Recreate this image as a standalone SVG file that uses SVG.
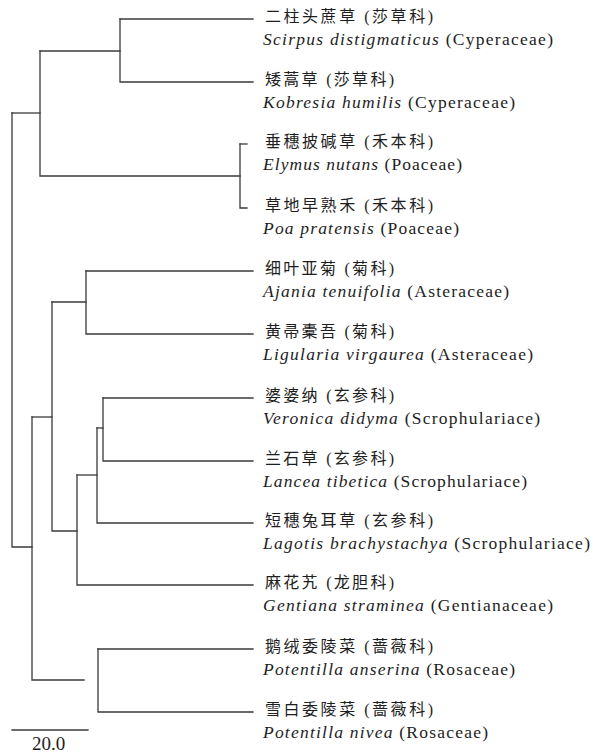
<svg xmlns="http://www.w3.org/2000/svg" width="593" height="753" viewBox="0 0 593 753">
<style>
.bg{fill:#ffffff}
.cn{font-family:"Liberation Serif","Noto Sans CJK SC",serif;font-size:16px;fill:#1e1e1e}
.la{font-family:"Liberation Serif",serif;font-size:17.5px;fill:#1e1e1e}
.it{font-style:italic}
.edge{fill:none;stroke:#3a3a3a;stroke-width:1.3;stroke-linecap:square;stroke-linejoin:miter}
.sc{font-family:"Liberation Serif",serif;font-size:19px;fill:#1e1e1e}
</style>
<rect class="bg" x="0" y="0" width="593" height="753"/>
<g id="connectors">
<path class="edge" d="M12,113 H40"/>
<path class="edge" d="M12,113 V547 H32"/>
<path class="edge" d="M40,51 V176 H240"/>
<path class="edge" d="M40,51 H120"/>
<path class="edge" d="M120,19 V82 H253"/>
<path class="edge" d="M120,19 H253"/>
<path class="edge" d="M240,144 V208 H247"/>
<path class="edge" d="M240,144 H247"/>
<path class="edge" d="M32,417 V680 H84"/>
<path class="edge" d="M32,417 H52"/>
<path class="edge" d="M52,302 V531 H77"/>
<path class="edge" d="M52,302 H86"/>
<path class="edge" d="M86,271 V334 H253"/>
<path class="edge" d="M86,271 H253"/>
<path class="edge" d="M77,475 V585 H253"/>
<path class="edge" d="M77,475 H97"/>
<path class="edge" d="M97,428 V523 H253"/>
<path class="edge" d="M97,428 H103"/>
<path class="edge" d="M103,398 V461 H253"/>
<path class="edge" d="M103,398 H253"/>
<path class="edge" d="M98,649 V712 H253"/>
<path class="edge" d="M98,649 H253"/>
</g>
<g id="scale">
<path class="edge" d="M12,730 H88"/>
<text class="sc" x="32" y="750">20.0</text>
</g>
<g id="n1">
<text class="cn" x="265" y="22" textLength="168" lengthAdjust="spacing">二柱头蔗草 (莎草科)</text>
<text class="la" x="263" y="45" textLength="290" lengthAdjust="spacing"><tspan class="it">Scirpus distigmaticus</tspan> (Cyperaceae)</text>
</g>
<g id="n2">
<text class="cn" x="265" y="85" textLength="129" lengthAdjust="spacing">矮蒿草 (莎草科)</text>
<text class="la" x="263" y="108" textLength="252" lengthAdjust="spacing"><tspan class="it">Kobresia humilis</tspan> (Cyperaceae)</text>
</g>
<g id="n3">
<text class="cn" x="265" y="147" textLength="168" lengthAdjust="spacing">垂穗披碱草 (禾本科)</text>
<text class="la" x="263" y="170" textLength="199" lengthAdjust="spacing"><tspan class="it">Elymus nutans</tspan> (Poaceae)</text>
</g>
<g id="n4">
<text class="cn" x="265" y="211" textLength="168" lengthAdjust="spacing">草地早熟禾 (禾本科)</text>
<text class="la" x="263" y="234" textLength="196" lengthAdjust="spacing"><tspan class="it">Poa pratensis</tspan> (Poaceae)</text>
</g>
<g id="n5">
<text class="cn" x="265" y="274" textLength="129" lengthAdjust="spacing">细叶亚菊 (菊科)</text>
<text class="la" x="263" y="297" textLength="246" lengthAdjust="spacing"><tspan class="it">Ajania tenuifolia</tspan> (Asteraceae)</text>
</g>
<g id="n6">
<text class="cn" x="265" y="337" textLength="129" lengthAdjust="spacing">黄帚橐吾 (菊科)</text>
<text class="la" x="263" y="360" textLength="270" lengthAdjust="spacing"><tspan class="it">Ligularia virgaurea</tspan> (Asteraceae)</text>
</g>
<g id="n7">
<text class="cn" x="265" y="401" textLength="129" lengthAdjust="spacing">婆婆纳 (玄参科)</text>
<text class="la" x="263" y="424" textLength="277" lengthAdjust="spacing"><tspan class="it">Veronica didyma</tspan> (Scrophulariace)</text>
</g>
<g id="n8">
<text class="cn" x="265" y="464" textLength="129" lengthAdjust="spacing">兰石草 (玄参科)</text>
<text class="la" x="263" y="487" textLength="264" lengthAdjust="spacing"><tspan class="it">Lancea tibetica</tspan> (Scrophulariace)</text>
</g>
<g id="n9">
<text class="cn" x="265" y="526" textLength="168" lengthAdjust="spacing">短穗兔耳草 (玄参科)</text>
<text class="la" x="263" y="549" textLength="327" lengthAdjust="spacing"><tspan class="it">Lagotis brachystachya</tspan> (Scrophulariace)</text>
</g>
<g id="n10">
<text class="cn" x="265" y="588" textLength="129" lengthAdjust="spacing">麻花艽 (龙胆科)</text>
<text class="la" x="263" y="611" textLength="290" lengthAdjust="spacing"><tspan class="it">Gentiana straminea</tspan> (Gentianaceae)</text>
</g>
<g id="n11">
<text class="cn" x="265" y="652" textLength="168" lengthAdjust="spacing">鹅绒委陵菜 (蔷薇科)</text>
<text class="la" x="263" y="675" textLength="252" lengthAdjust="spacing"><tspan class="it">Potentilla anserina</tspan> (Rosaceae)</text>
</g>
<g id="n12">
<text class="cn" x="265" y="715" textLength="168" lengthAdjust="spacing">雪白委陵菜 (蔷薇科)</text>
<text class="la" x="263" y="738" textLength="225" lengthAdjust="spacing"><tspan class="it">Potentilla nivea</tspan> (Rosaceae)</text>
</g>
</svg>
